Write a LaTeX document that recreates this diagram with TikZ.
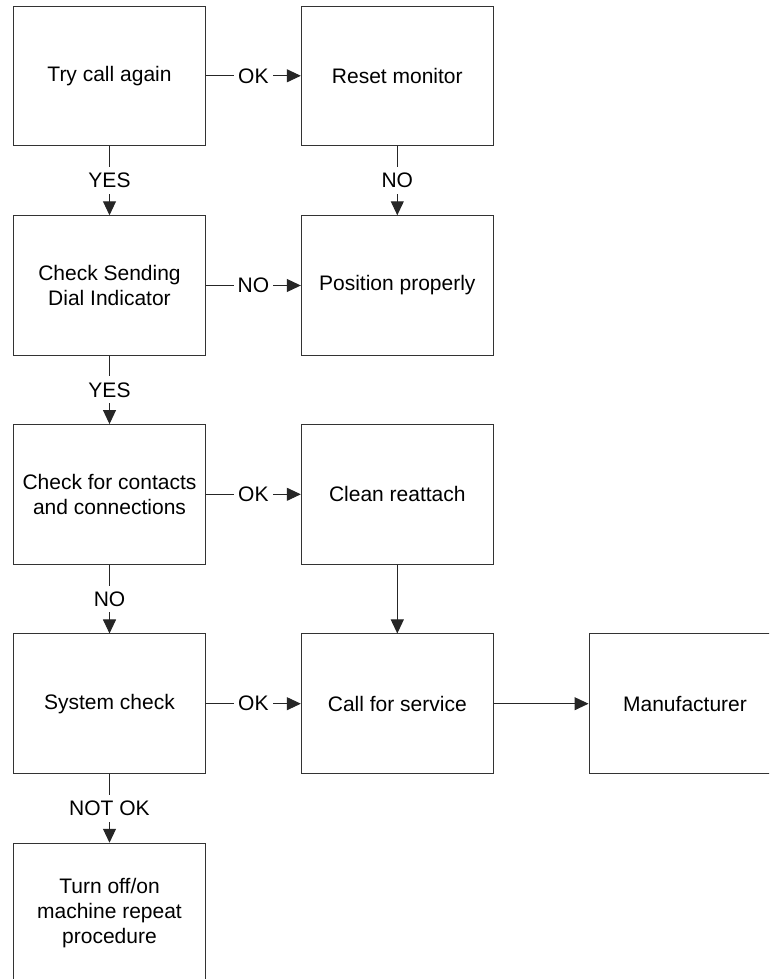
\documentclass[tikz,border=0pt]{standalone}
\usepackage{fontspec}
\setmainfont{Liberation Sans}
\usetikzlibrary{arrows.meta}
\begin{document}
\begin{tikzpicture}[x=1pt,y=-1pt,
  box/.style={draw=black!80, line width=1pt, minimum width=192pt, minimum height=139.5pt,
    inner sep=0pt, align=center, font=\fontsize{21}{25}\selectfont},
  conn/.style={draw=black!85, line width=1pt, -{Triangle[length=14pt,width=13pt]}},
  lbl/.style={fill=white, inner xsep=4pt, inner ysep=6pt, font=\fontsize{21}{24}\selectfont}]
  \useasboundingbox (0,0) rectangle (769,979);
  \clip (0,0) rectangle (769,979);
  \fill[white] (0,0) rectangle (769,979);

  % left column
  \node[box] (try)    at (109.5,75.8)  {Try call again};
  \node[box] (dial)   at (109.5,285.5) {Check Sending\\Dial Indicator};
  \node[box] (contact) at (109.5,494.3) {Check for contacts\\and connections};
  \node[box] (sys)    at (109.5,703.7) {System check};
  \node[box] (turn)   at (109.5,913)   {Turn off/on\\machine repeat\\procedure};

  % middle column
  \node[box] (reset)  at (397.3,75.8)  {Reset monitor};
  \node[box] (pos)    at (397.3,285.5) {Position properly};
  \node[box] (clean)  at (397.3,494.3) {Clean reattach};
  \node[box] (service) at (397.3,703.7) {Call for service};

  % right column
  \node[box] (manu)   at (685,703.7)   {Manufacturer};

  % connectors
  \draw[conn] (try) -- node[lbl] {OK} (reset);
  \draw[conn] (try) -- node[lbl] {YES} (dial);
  \draw[conn] (reset) -- node[lbl] {NO} (pos);
  \draw[conn] (dial) -- node[lbl] {NO} (pos);
  \draw[conn] (dial) -- node[lbl] {YES} (contact);
  \draw[conn] (contact) -- node[lbl] {OK} (clean);
  \draw[conn] (contact) -- node[lbl] {NO} (sys);
  \draw[conn] (clean) -- (service);
  \draw[conn] (sys) -- node[lbl] {OK} (service);
  \draw[conn] (service) -- (manu);
  \draw[conn] (sys) -- node[lbl] {NOT OK} (turn);
\end{tikzpicture}
\end{document}
